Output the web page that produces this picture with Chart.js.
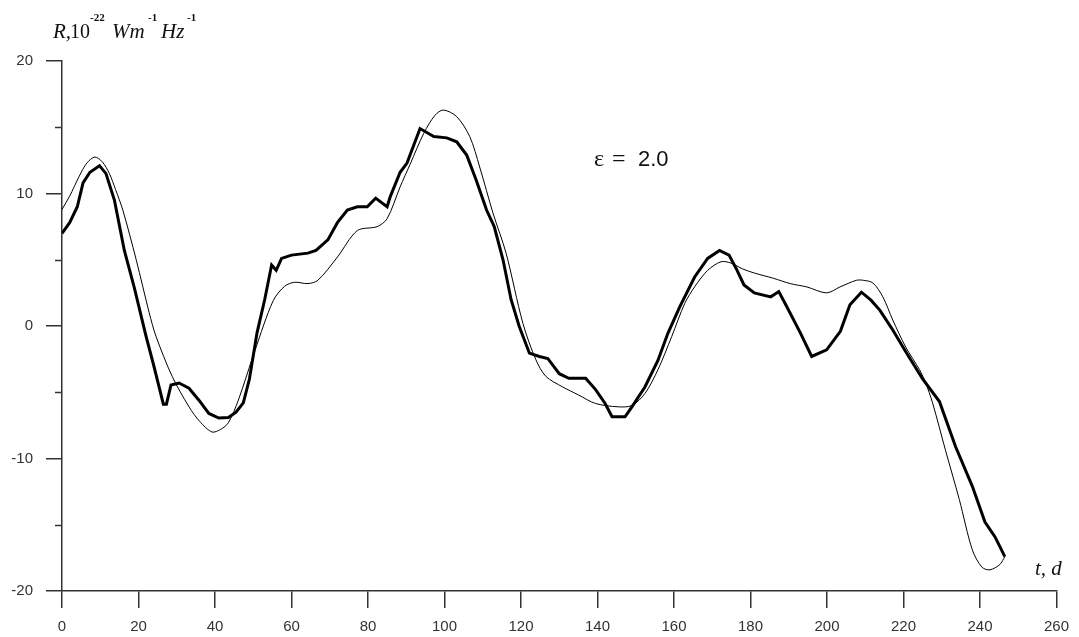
<!DOCTYPE html>
<html>
<head>
<meta charset="utf-8">
<script src="https://cdn.jsdelivr.net/npm/chart.js@4"></script>
<style>
  body { margin: 0; background: #fff; }
</style>
</head>
<body>
<canvas id="plot" width="1079" height="637"></canvas>
<script>
// measured (thick) curve
const tThick = [0, 2, 4, 5.5, 7.3, 9.8, 11.5, 13.7, 16.3, 18.9, 22, 24, 26.5, 27.3, 28.5, 30.6, 33.2, 35.8, 38.4, 41, 43.5, 45.5, 47.4, 49, 51, 53, 54.8, 56, 57.4, 60, 64.3, 66.4, 69.5, 72, 74.6, 77.2, 79.8, 82, 85, 85.8, 88.4, 90.2, 93.6, 97.2, 100.6, 103.2, 105.8, 108.3, 111, 113, 115.3, 117.4, 119.5, 122.2, 124.8, 127, 130, 132.5, 136.9, 139.5, 142, 143.8, 147.2, 149, 152.4, 155.8, 158.4, 161.5, 165.4, 168.8, 171.9, 174.4, 176.5, 178.3, 181, 185.3, 187.4, 189.5, 193, 196, 199.9, 203.5, 206, 209, 211.5, 213.8, 217.2, 220.6, 225, 229.4, 233.6, 238, 241.3, 243.9, 246.5];
const rThick = [7.0, 7.8, 9.0, 10.8, 11.6, 12.1, 11.5, 9.5, 5.7, 2.9, -0.8, -3.0, -5.9, -5.9, -4.45, -4.3, -4.7, -5.6, -6.6, -6.95, -6.9, -6.5, -5.8, -4.0, -0.5, 2.0, 4.6, 4.2, 5.1, 5.35, 5.5, 5.7, 6.5, 7.8, 8.75, 9.0, 9.0, 9.65, 9.0, 9.75, 11.6, 12.3, 14.9, 14.3, 14.2, 13.9, 12.9, 11.0, 8.75, 7.5, 5.0, 2.0, 0, -2.05, -2.3, -2.45, -3.6, -3.95, -3.95, -4.8, -5.85, -6.85, -6.85, -6.1, -4.6, -2.6, -0.55, 1.45, 3.7, 5.1, 5.7, 5.35, 4.2, 3.1, 2.5, 2.2, 2.6, 1.45, -0.5, -2.3, -1.8, -0.4, 1.6, 2.55, 1.95, 1.2, -0.3, -1.95, -4.0, -5.7, -9.1, -12.1, -14.8, -15.9, -17.4];

// model (thin) curve
const tThin = [0, 2, 4.5, 6.5, 8.6, 10.5, 12.4, 14, 15.9, 19.4, 22.8, 24.6, 28.8, 33.2, 36, 39.2, 41.5, 43.5, 46.1, 50.5, 55.2, 58.2, 60.8, 64.3, 66.9, 72, 77.2, 82.4, 85, 88.4, 91, 94.6, 97.5, 99.7, 103.2, 106.6, 109.2, 112.7, 116.1, 120.5, 123.9, 126.5, 130.9, 135, 139.5, 145.4, 149, 152.4, 155.8, 159.4, 162.8, 165.5, 168.8, 172.3, 174.9, 178, 181, 186, 190.4, 194.7, 199.9, 203.4, 207.7, 209.5, 212, 214.6, 217.2, 220.6, 224.2, 225.8, 227.6, 231, 234.6, 238, 240.5, 242.6, 245.2, 246.5];
const rThin = [8.8, 9.8, 11.3, 12.3, 12.75, 12.4, 11.5, 10.3, 8.75, 5.0, 1.0, -0.8, -3.8, -6.1, -7.2, -8.0, -7.8, -7.3, -5.6, -1.8, 1.9, 3.0, 3.3, 3.2, 3.45, 5.2, 7.2, 7.5, 8.1, 10.5, 12.2, 14.55, 15.9, 16.3, 15.8, 14.3, 12.0, 8.5, 5.5, 0.2, -2.55, -3.8, -4.6, -5.2, -5.85, -6.1, -6.0, -5.1, -3.3, -0.8, 1.7, 3.0, 4.2, 4.85, 4.75, 4.3, 4.0, 3.6, 3.2, 2.95, 2.5, 2.95, 3.45, 3.45, 3.25, 2.2, 0.45, -1.6, -3.3, -4.3, -5.8, -9.4, -13.1, -16.9, -18.2, -18.4, -18.0, -17.4];

const yMinor = [-15, -5, 5, 15];

function pts(xs, ys) {
  return xs.map((x, i) => ({ x: x, y: ys[i] }));
}

const axisCol = '#333';

const extras = {
  id: 'extras',
  afterDraw(chart) {
    const ctx = chart.ctx;
    const xs = chart.scales.x, ys = chart.scales.y;
    ctx.save();
    // minor ticks on y
    ctx.strokeStyle = axisCol;
    ctx.lineWidth = 1.5;
    yMinor.forEach(v => {
      const py = Math.round(ys.getPixelForValue(v)) + 0.5;
      ctx.beginPath();
      ctx.moveTo(xs.left - 7, py);
      ctx.lineTo(xs.left, py);
      ctx.stroke();
    });

    ctx.fillStyle = '#111';
    ctx.textBaseline = 'alphabetic';
    // y-axis title with superscripts
    const base = 38;
    const big = 'italic 21px "Liberation Serif", "Times New Roman", serif';
    const rom = '20px "Liberation Serif", "Times New Roman", serif';
    const sup = 'bold 11px "Liberation Serif", serif';
    const parts = [['R,', big, 0, 53], ['10', rom, 0, 70], ['-22', sup, -17, 90],
                   ['Wm', big, 0, 112], ['-1', sup, -17, 148], ['Hz', big, 0, 161], ['-1', sup, -17, 187]];
    parts.forEach(p => {
      ctx.font = p[1];
      ctx.fillText(p[0], p[3], base + p[2]);
    });

    // x-axis title
    ctx.font = big;
    ctx.fillText('t, d', 1035, 575);

    // annotation
    ctx.font = '24px "Liberation Serif", serif';
    ctx.fillText('\u03b5', 594, 166);
    ctx.fillText('=', 612, 166);
    ctx.font = '22px "Liberation Sans", Arial, sans-serif';
    ctx.fillText('2.0', 638, 166);
    ctx.restore();
  }
};

new Chart(document.getElementById('plot'), {
  type: 'scatter',
  data: {
    datasets: [
      {
        label: 'thick',
        data: pts(tThick, rThick),
        showLine: true,
        borderColor: '#000',
        borderWidth: 3,
        pointRadius: 0,
        tension: 0
      },
      {
        label: 'thin',
        data: pts(tThin, rThin),
        showLine: true,
        borderColor: '#000',
        borderWidth: 1,
        pointRadius: 0,
        tension: 0.3
      }
    ]
  },
  options: {
    responsive: false,
    animation: false,
    layout: { padding: { top: 61, right: 14, left: 0, bottom: 0 } },
    plugins: { legend: { display: false }, tooltip: { enabled: false } },
    scales: {
      x: {
        type: 'linear',
        min: 0,
        max: 260,
        afterFit(s) { s.height = 46; },
        ticks: {
          stepSize: 20,
          color: '#333',
          padding: 10,
          font: { family: '"Liberation Sans", Arial, sans-serif', size: 15 },
          maxRotation: 0
        },
        grid: { drawOnChartArea: false, tickLength: 17, color: axisCol, lineWidth: 1.5 },
        border: { color: axisCol, width: 1.5 }
      },
      y: {
        min: -20,
        max: 20,
        afterFit(s) { s.width = 62; },
        ticks: {
          stepSize: 10,
          color: '#333',
          padding: 13,
          font: { family: '"Liberation Sans", Arial, sans-serif', size: 15 }
        },
        grid: { drawOnChartArea: false, tickLength: 16, color: axisCol, lineWidth: 1.5 },
        border: { color: axisCol, width: 1.5 }
      }
    }
  },
  plugins: [extras]
});
</script>
</body>
</html>
